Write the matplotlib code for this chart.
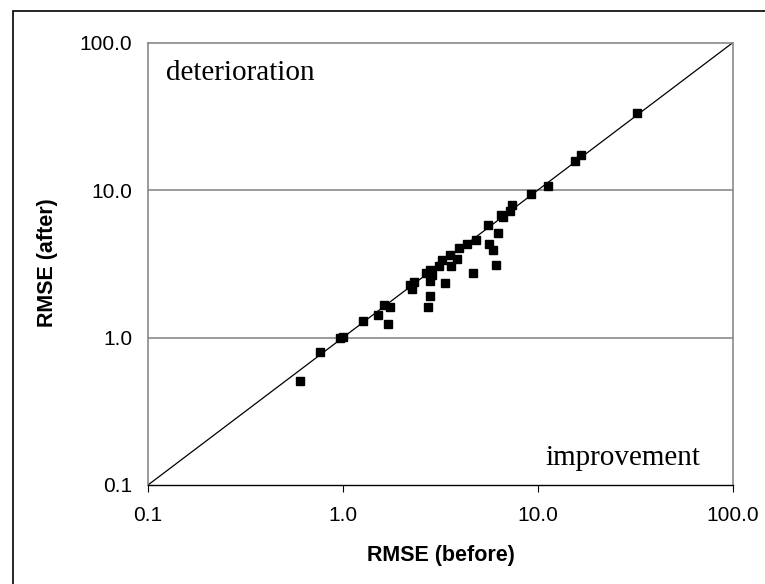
import matplotlib
matplotlib.use("Agg")
import matplotlib.pyplot as plt
from matplotlib.patches import Rectangle
from matplotlib.ticker import FixedLocator, FixedFormatter, NullLocator

# RMSE before / after
rmse_before = [0.60, 0.76, 0.97, 1.00, 1.27, 1.51, 1.62, 1.70, 1.75, 2.20,
               2.25, 2.31, 2.65, 2.74, 2.78, 2.78, 2.81, 2.85, 3.12, 3.21,
               3.34, 3.54, 3.60, 3.84, 3.93, 4.33, 4.64, 4.80, 5.57, 5.60,
               5.90, 6.11, 6.22, 6.44, 6.60, 7.18, 7.39, 9.20, 11.2, 15.4,
               16.6, 32.1]
rmse_after = [0.51, 0.80, 1.00, 1.01, 1.30, 1.42, 1.66, 1.24, 1.62, 2.27,
              2.13, 2.38, 2.72, 1.61, 1.90, 2.89, 2.43, 2.65, 3.03, 3.34,
              2.33, 3.65, 3.03, 3.40, 4.03, 4.30, 2.72, 4.58, 5.75, 4.32,
              3.91, 3.12, 5.12, 6.73, 6.57, 7.26, 7.87, 9.44, 10.7, 15.7,
              17.3, 33.2]

ticks = [0.1, 1.0, 10.0, 100.0]
tick_labels = ["0.1", "1.0", "10.0", "100.0"]

W, H = 765, 584
fig = plt.figure(figsize=(W / 100, H / 100), dpi=100)
# outer chart border (runs off the right and bottom edge)
fig.patches.append(Rectangle((12.7 / W, -0.02), 1.0, 1 - 11 / H + 0.02,
                             transform=fig.transFigure, fill=False,
                             edgecolor="black", linewidth=1.2))

ax = fig.add_axes([148 / W, 1 - 485 / H, 585 / W, 442.5 / H])
ax.set_xscale("log")
ax.set_yscale("log")
ax.set_xlim(0.1, 100)
ax.set_ylim(0.1, 100)

for v in [1.0, 10.0]:
    ax.axhline(v, color="#808080", linewidth=1.1, zorder=1)

ax.plot([0.1, 100], [0.1, 100], color="black", linewidth=0.9, zorder=2)
ax.plot(rmse_before, rmse_after, "s", color="black", markersize=6, zorder=3)

for s in ["top", "right", "left"]:
    ax.spines[s].set_color("#808080")
    ax.spines[s].set_linewidth(1.1)
ax.spines["bottom"].set_color("black")
ax.spines["bottom"].set_linewidth(1.0)

for axis in (ax.xaxis, ax.yaxis):
    axis.set_major_locator(FixedLocator(ticks))
    axis.set_major_formatter(FixedFormatter(tick_labels))
    axis.set_minor_locator(NullLocator())
ax.tick_params(axis="x", which="major", direction="out", length=5,
               color="black", labelsize=15, pad=10)
ax.tick_params(axis="y", which="major", length=0, labelsize=15, pad=11.5)
for lab in ax.get_xticklabels() + ax.get_yticklabels():
    lab.set_family("Liberation Sans")

fig.text(441 / W, 1 - 555 / H, "RMSE (before)", fontsize=15.5,
         fontweight="bold", family="Liberation Sans", ha="center", va="center")
fig.text(48 / W, 1 - 263 / H, "RMSE (after)", fontsize=15.5, rotation=90,
         fontweight="bold", family="Liberation Sans", ha="center", va="center")

ax.text(0.031, 0.915, "deterioration", transform=ax.transAxes,
        family="Liberation Serif", fontsize=21, ha="left", va="baseline")
ax.text(0.944, 0.045, "improvement", transform=ax.transAxes,
        family="Liberation Serif", fontsize=21, ha="right", va="baseline")

fig.savefig("out.png", dpi=100)
